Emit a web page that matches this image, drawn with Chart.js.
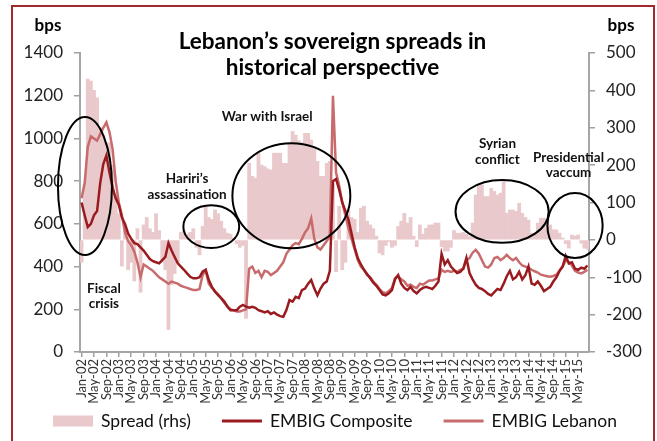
<!DOCTYPE html>
<html>
<head>
<meta charset="utf-8">
<script src="https://cdn.jsdelivr.net/npm/chart.js@4.4.1/dist/chart.umd.min.js"></script>
<style>
  html, body { margin: 0; padding: 0; background: #fff; }
  #wrap { position: relative; width: 657px; height: 441px; overflow: hidden; }
  #frame { position: absolute; left: 11px; top: 5px; width: 640px; height: 460px; border: 2px solid #a3282c; pointer-events: none; }
</style>
</head>
<body>
<div id="wrap">
  <canvas id="myChart" width="657" height="441"></canvas>
  <div id="frame"></div>
</div>
<script>
// monthly categories, Jan-02 .. Aug-15
var monthNames = ['Jan', 'Feb', 'Mar', 'Apr', 'May', 'Jun', 'Jul', 'Aug', 'Sep', 'Oct', 'Nov', 'Dec'];
var firstYear = 2002;
var monthCount = 164;
var categories = [];
for (var i = 0; i < monthCount; i++) {
    var yr = firstYear + Math.floor(i / 12);
    categories.push(monthNames[i % 12] + '-' + String(yr).slice(2));
}

// Spread (rhs), bps
var spread = [
    -60, 150, 430, 425, 400, 380, 300, 280, 260, 260, 200, 120,   // 2002
    70, -70, 30, -80, -60, -110, 30, -140, 40, 60, 30, 20,        // 2003
    70, 25, -60, -80, -240, -120, -90, -60, 20, 25, 15, 20,       // 2004
    30, -20, -40, 36, 90, 60, 55, 80, 70, 50, 30, 18,             // 2005
    15, 5, -10, -20, -15, -210, 205, 170, 165, 232, 200, 196,     // 2006
    190, 187, 232, 232, 232, 205, 205, 258, 290, 280, 265, 260,   // 2007
    285, 285, 267, 250, 210, 170, 170, 205, 210, 150, -85, 90,    // 2008
    -80, -60, 80, 60, 55, 20, 85, 90, 50, 40, 30, 10,             // 2009
    -35, -40, -15, -5, -20, -15, 36, 50, 71, 45, 60, 10,          // 2010
    -18, 40, 15, 31, 40, 40, 45, 45, -18, -30, -30, -20,          // 2011
    25, 18, 18, 20, 15, 9, 45, 120, 145, 147, 116, 116,           // 2012
    138, 130, 120, 125, 156, 71, 80, 80, 76, 98, 71, 60,          // 2013
    53, 18, 18, 45, 58, 58, 45, 40, 27, 27, 18, 5,                // 2014
    -10, -22, 13, 10, 13, -9, -22, -25                            // 2015
];

// EMBIG Composite, bps
var composite = [
    700, 640, 585, 600, 640, 660, 790, 880, 920, 840, 770, 720,
    690, 630, 600, 555, 530, 510, 505, 490, 475, 455, 435, 425,
    420, 415, 430, 445, 510, 475, 445, 415, 400, 385, 368, 352,
    345, 345, 350, 376, 385, 337, 305, 282, 266, 252, 236, 212,
    196, 196, 196, 212, 220, 212, 207, 212, 207, 196, 191, 185,
    191, 178, 185, 175, 168, 165, 196, 243, 236, 258, 252, 290,
    297, 320, 337, 297, 266, 297, 320, 330, 380, 800, 810, 760,
    700, 660, 620, 555, 490, 440, 410, 385, 365, 345, 325, 310,
    290, 270, 265, 275, 290, 340, 360, 320, 300, 290, 305, 285,
    275, 290, 300, 305, 300, 295, 310, 330, 460, 410, 430, 400,
    385, 370, 375, 390, 440, 370, 340, 315, 300, 295, 285, 272,
    265, 280, 295, 290, 320, 355, 380, 340, 350, 375, 340, 360,
    400, 320, 315, 330, 310, 285, 295, 305, 330, 350, 380, 400,
    450, 415, 420, 390, 385, 395, 390, 405
];

// EMBIG Lebanon, bps
var lebanon = [
    720, 790, 960, 1010, 1000, 990, 1020, 1050, 1075, 1030, 950, 800,
    700, 640, 560, 520, 500, 470, 420, 350, 410, 400, 390, 380,
    365, 350, 340, 330, 320, 330, 325, 320, 310, 305, 300, 295,
    290, 290, 295, 360, 380, 320, 300, 285, 270, 250, 230, 215,
    200, 195, 190, 190, 195, 200, 390, 400, 370, 380, 350, 380,
    375, 360, 370, 380, 400, 420, 460, 480, 500, 510, 505, 530,
    560, 580, 625, 530, 490, 480, 500, 520, 540, 1200, 840, 780,
    700, 640, 580, 530, 480, 430, 400, 385, 360, 350, 330, 315,
    295, 280, 275, 285, 300, 345, 355, 340, 330, 310, 315, 305,
    300, 320, 315, 325, 335, 335, 340, 345, 385, 375, 380, 375,
    380, 375, 385, 390, 430, 440, 465, 478, 460, 430, 400, 395,
    410, 440, 445, 430, 440, 455, 440, 430, 440, 420, 405, 400,
    395, 385, 378, 372, 362, 358, 355, 352, 356, 362, 380, 400,
    430, 420, 405, 380, 372, 368, 375, 385
];

// annotations: month index, left-axis bps, half-width in months, half-height in bps
var circles = [
    [1.1, 777, 8.7, 323],
    [41.8, 587, 9.0, 100],
    [67.6, 732, 19.0, 246],
    [135.5, 658, 15.0, 147],
    [159.0, 592, 8.9, 152]
];
var notes = [
    [7.2, 262, ['Fiscal', 'crisis']],
    [34.0, 775, ['Hariri\u2019s', 'assassination']],
    [59.8, 1100, ['War with Israel']],
    [134.0, 938, ['Syrian', 'conflict']],
    [156.9, 875, ['Presidential', 'vaccum']]
];

var fontName = 'Lato';

var decor = {
    id: 'decor',
    afterDatasetsDraw: function(chart) {
        var c = chart.ctx, xs = chart.scales.x, ys = chart.scales.y;
        c.save();
        c.strokeStyle = '#000';
        c.lineWidth = 2;
        circles.forEach(function(e) {
            var cx = xs.getPixelForValue(e[0]);
            var cy = ys.getPixelForValue(e[1]);
            var rx = xs.getPixelForValue(e[0] + e[2]) - cx;
            var ry = cy - ys.getPixelForValue(e[1] + e[3]);
            c.beginPath();
            c.ellipse(cx, cy, rx, ry, 0, 0, Math.PI * 2);
            c.stroke();
        });
        c.fillStyle = '#111';
        c.font = 'bold 13.5px ' + fontName;
        c.textAlign = 'center';
        c.textBaseline = 'middle';
        notes.forEach(function(n) {
            var x = xs.getPixelForValue(n[0]);
            var y = ys.getPixelForValue(n[1]);
            var lines = n[2];
            lines.forEach(function(t, k) {
                c.fillText(t, x, y + (k - (lines.length - 1) / 2) * 15.5);
            });
        });
        c.restore();
    },
    afterDraw: function(chart) {
        var c = chart.ctx, area = chart.chartArea;
        c.save();
        c.fillStyle = '#000';
        c.textAlign = 'center';
        c.textBaseline = 'middle';
        // title
        var mid = (area.left + area.right) / 2 - 2;
        c.font = 'bold 22.5px ' + fontName;
        c.fillText('Lebanon\u2019s sovereign spreads in', mid, 42);
        c.fillText('historical perspective', mid, 68);
        // axis units
        c.font = 'bold 17px ' + fontName;
        c.fillText('bps', area.left - 32, 26);
        c.fillText('bps', area.right + 32, 26);
        // legend
        var ds = chart.data.datasets;
        c.font = '17.5px ' + fontName;
        c.textAlign = 'left';
        var widths = ds.map(function(d) { return 48 + c.measureText(d.label).width; });
        var gap = 31;
        var total = widths.reduce(function(a, b) { return a + b; }, 0) + gap * (ds.length - 1);
        var x = 335 - total / 2, y = 421;
        ds.forEach(function(d, k) {
            if (d.type === 'line') {
                c.strokeStyle = d.borderColor;
                c.lineWidth = 3;
                c.beginPath();
                c.moveTo(x, y);
                c.lineTo(x + 40, y);
                c.stroke();
            } else {
                c.fillStyle = d.backgroundColor;
                c.fillRect(x, y - 5.5, 40, 11);
            }
            c.fillStyle = '#111';
            c.fillText(d.label, x + 48, y);
            x += widths[k] + gap;
        });
        c.restore();
    }
};

var element = document.getElementById('myChart').getContext('2d');

var chartData = {
    labels: categories,
    datasets: [{
        label: 'Spread (rhs)',
        data: spread,
        yAxisID: 'y2',
        backgroundColor: '#e9c9cb',
        borderWidth: 0,
        barPercentage: 1,
        categoryPercentage: 1,
        order: 3
    }, {
        type: 'line',
        label: 'EMBIG Composite',
        data: composite,
        yAxisID: 'y',
        borderColor: '#9a1b1f',
        borderWidth: 2.5,
        pointRadius: 0,
        tension: 0,
        order: 1
    }, {
        type: 'line',
        label: 'EMBIG Lebanon',
        data: lebanon,
        yAxisID: 'y',
        borderColor: '#c86b6d',
        borderWidth: 2.5,
        pointRadius: 0,
        tension: 0,
        order: 2
    }]
};

var plainTick = function(v) { return String(v); };

var chartOptions = {
    responsive: false,
    animation: false,
    layout: { padding: { left: 10, top: 53, right: 0, bottom: 0 } },
    plugins: {
        legend: { display: false },
        tooltip: { enabled: false }
    },
    scales: {
        x: {
            offset: true,
            grid: {
                drawOnChartArea: false,
                tickLength: 5,
                offset: false,
                lineWidth: 1.5,
                color: function(ctx) { return ctx.index % 4 === 0 ? '#a0a0a0' : 'rgba(0,0,0,0)'; }
            },
            border: { color: '#a6a6a6', width: 2 },
            ticks: {
                autoSkip: false,
                maxRotation: 90,
                minRotation: 90,
                padding: 2,
                color: '#333',
                font: { family: fontName, size: 13 },
                callback: function(v, i) { return i % 4 === 0 ? this.getLabelForValue(v) : ''; }
            },
            afterFit: function(s) { s.height = 89; }
        },
        y: {
            position: 'left',
            min: 0,
            max: 1400,
            ticks: { stepSize: 200, padding: 11, color: '#222', font: { family: fontName, size: 17 }, callback: plainTick },
            grid: { drawOnChartArea: false, tickLength: 6, color: '#a0a0a0', lineWidth: 1.5 },
            border: { color: '#a6a6a6', width: 2 },
            afterFit: function(s) { s.width = 70; }
        },
        y2: {
            position: 'right',
            min: -300,
            max: 500,
            ticks: { stepSize: 100, padding: 11, color: '#222', font: { family: fontName, size: 17 }, callback: plainTick },
            grid: { drawOnChartArea: false, tickLength: 6, color: '#a0a0a0', lineWidth: 1.5 },
            border: { color: '#a6a6a6', width: 2 },
            afterFit: function(s) { s.width = 68; }
        }
    }
};

var chart = new Chart(element, { type: 'bar', data: chartData, options: chartOptions, plugins: [decor] });
</script>
</body>
</html>
